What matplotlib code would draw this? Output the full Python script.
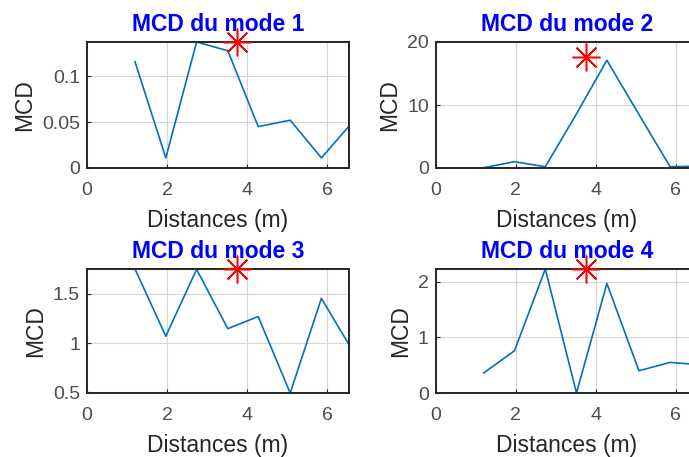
import numpy as np
import matplotlib
matplotlib.use("Agg")
import matplotlib.pyplot as plt

plt.rcParams['font.family'] = ['Liberation Sans', 'DejaVu Sans']

# distances ou la MCD est calculee
distances = [1.2, 1.97, 2.74, 3.52, 4.28, 5.08, 5.86, 6.6]

mcd_mode1 = [0.1155, 0.011, 0.137, 0.1275, 0.045, 0.052, 0.011, 0.048]
mcd_mode2 = [0.05, 1.0, 0.2, 8.6, 17.1, 8.5, 0.2, 0.3]
mcd_mode3 = [1.754, 1.07, 1.75, 1.147, 1.27, 0.492, 1.455, 0.95]
mcd_mode4 = [0.36, 0.76, 2.23, 0.0, 1.97, 0.40, 0.55, 0.51]

# position estimee (etoile rouge)
star_x = 3.75
star_y = [0.137, 17.6, 1.754, 2.23]

ylims = [(0, 0.137), (0, 20), (0.492, 1.754), (0, 2.23)]
yticks = [[0, 0.05, 0.1], [0, 10, 20], [0.5, 1, 1.5], [0, 1, 2]]
ytick_labels = [['0', '0.05', '0.1'], ['0', '10', '20'], ['0.5', '1', '1.5'], ['0', '1', '2']]
xticks = [0, 2, 4, 6]

modes = [mcd_mode1, mcd_mode2, mcd_mode3, mcd_mode4]

fig = plt.figure(figsize=(6.89, 4.57), dpi=100)

W, H = 689.0, 457.0
lefts = [87, 435.7]
tops = [42, 269]
bottoms = [168, 393]
aw = 262

txt = (0.15, 0.15, 0.15)

for i, mcd in enumerate(modes):
    r, c = divmod(i, 2)
    ax = fig.add_axes([lefts[c] / W, 1 - bottoms[r] / H, aw / W, (bottoms[r] - tops[r]) / H])
    ax.plot(distances, mcd, color=(0, 0.447, 0.741), lw=1.2)
    ax.plot([star_x], [star_y[i]], marker=(8, 2, 0), color='red', ms=20, mew=1.1,
            linestyle='none', clip_on=False, zorder=5)
    ax.set_xlim(0, 6.55)
    ax.set_ylim(*ylims[i])
    ax.set_xticks(xticks)
    ax.set_xticklabels([str(t) for t in xticks])
    ax.set_yticks(yticks[i])
    ax.set_yticklabels(ytick_labels[i])
    ax.grid(True, color=(0.84, 0.84, 0.84), lw=0.8)
    ax.set_axisbelow(True)
    for s in ax.spines.values():
        s.set_linewidth(1.4)
        s.set_color(txt)
    ax.tick_params(direction='in', length=3, width=0.8, color=txt, labelcolor=(0.3, 0.3, 0.3),
                   labelsize=14)
    ax.tick_params(axis='x', pad=10)
    ax.tick_params(axis='y', pad=5)
    ax.set_xlabel('Distances (m)', fontsize=16.5, color=txt, labelpad=7)
    ax.set_ylabel('MCD', fontsize=16.5, color=txt, labelpad=4)
    ax.set_title('MCD du mode %d' % (i + 1), fontsize=16.5, fontweight='bold', color=(0, 0, 1), pad=8)

fig.savefig('out.png', dpi=100)
